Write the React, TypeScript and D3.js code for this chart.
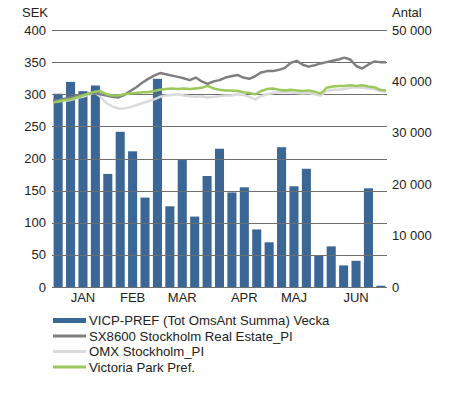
import { useRef, useEffect } from 'react';
import * as d3 from 'd3';

// Weekly volume (Antal), weeks 1-27
const weeks = d3.range(1, 28).map((w) => `v${w}`);
const volume = [
  37600, 39900, 38100, 39200, 22000, 30200, 26400, 17400, 40500, 15700, 24700, 13700, 21600, 26900,
  18400, 19400, 11200, 8700, 27200, 19600, 23000, 6100, 7900, 4200, 5100, 19200, 250,
];

// Month labels placed under these week bars
const monthWeeks = ['v3', 'v7', 'v11', 'v16', 'v20', 'v25'];
const monthLabels = ['JAN', 'FEB', 'MAR', 'APR', 'MAJ', 'JUN'];

// Price series (SEK), sampled over the half year
const sx8600 = [
  290, 291, 293, 295, 297, 299, 301, 302, 300, 298, 296, 295, 299, 305, 311, 318, 324, 329, 333, 331,
  329, 327, 325, 322, 326, 320, 316, 320, 322, 326, 328, 330, 326, 324, 328, 334, 336, 336, 338, 341,
  349, 352, 346, 343, 345, 348, 350, 352, 354, 357, 354, 344, 340, 346, 351, 350, 350,
];
const omx = [
  288, 289, 290, 291, 294, 296, 299, 303, 296, 286, 281, 278, 278, 280, 283, 286, 289, 292, 296, 298,
  299, 300, 298, 297, 296, 297, 295, 296, 297, 298, 298, 300, 299, 296, 292, 297, 300, 302, 303, 303,
  303, 302, 301, 302, 300, 298, 305, 307, 307, 308, 310, 311, 310, 309, 308, 305, 304,
];
const victoriaPark = [
  287, 289, 291, 292, 295, 298, 301, 304, 305, 300, 298, 298, 300, 301, 302, 303, 303, 305, 307, 308,
  309, 308, 309, 308, 309, 310, 313, 309, 307, 306, 306, 305, 303, 302, 300, 305, 308, 309, 307, 306,
  307, 306, 305, 306, 304, 301, 310, 312, 313, 313, 314, 313, 314, 312, 311, 307, 306,
];

const leftTicks = [0, 50, 100, 150, 200, 250, 300, 350, 400];
const rightTicks = [0, 10000, 20000, 30000, 40000, 50000];

const legendItems = [
  { label: 'VICP-PREF (Tot OmsAnt Summa) Vecka', color: '#3a6795', width: 5 },
  { label: 'SX8600 Stockholm Real Estate_PI', color: '#7f7f7f', width: 3 },
  { label: 'OMX Stockholm_PI', color: '#dadada', width: 3 },
  { label: 'Victoria Park Pref.', color: '#9bc95c', width: 3 },
];

export default function App() {
  const svgRef = useRef<SVGSVGElement>(null);

  useEffect(() => {
    document.body.style.margin = '0';
    if (!svgRef.current) return;

    const width = 472;
    const height = 393;
    const margin = { top: 30, right: 85, bottom: 106, left: 52 };
    const font = '"Liberation Sans", Arial, sans-serif';

    d3.select(svgRef.current).selectAll('*').remove();
    const svg = d3
      .select(svgRef.current)
      .attr('width', width)
      .attr('height', height)
      .style('font-family', font);

    svg.append('rect').attr('width', width).attr('height', height).attr('fill', '#fff');

    const x0 = margin.left;
    const x1 = width - margin.right;
    const y0 = height - margin.bottom;

    const xBand = d3.scaleBand().domain(weeks).range([x0, x1]).paddingInner(0.27).paddingOuter(0.13);
    const yLeft = d3.scaleLinear().domain([0, 400]).range([y0, margin.top]);
    const yRight = d3.scaleLinear().domain([0, 50000]).range([y0, margin.top]);
    const xLine = d3.scaleLinear().domain([0, sx8600.length - 1]).range([x0 + 1, x1 - 1]);

    // Bars
    svg
      .append('g')
      .selectAll('rect')
      .data(volume)
      .join('rect')
      .attr('x', (_, i) => xBand(weeks[i]) || 0)
      .attr('y', (d) => yRight(d))
      .attr('width', xBand.bandwidth())
      .attr('height', (d) => y0 - yRight(d))
      .attr('fill', '#3a6795');

    // Grid lines
    svg
      .append('g')
      .selectAll('line')
      .data(leftTicks)
      .join('line')
      .attr('x1', x0)
      .attr('x2', x1)
      .attr('y1', (d) => Math.round(yLeft(d)) + 0.5)
      .attr('y2', (d) => Math.round(yLeft(d)) + 0.5)
      .attr('stroke', '#6f6f6f')
      .attr('stroke-width', 1);

    // Lines
    const line = d3
      .line<number>()
      .x((_, i) => xLine(i))
      .y((d) => yLeft(d))
      .curve(d3.curveLinear);

    [
      { data: omx, color: '#dadada' },
      { data: sx8600, color: '#7f7f7f' },
      { data: victoriaPark, color: '#9bc95c' },
    ].forEach((s) => {
      svg
        .append('path')
        .datum(s.data)
        .attr('d', line)
        .attr('fill', 'none')
        .attr('stroke', s.color)
        .attr('stroke-width', 2.5)
        .attr('stroke-linejoin', 'round');
    });

    // Left axis labels
    svg
      .append('g')
      .selectAll('text')
      .data(leftTicks)
      .join('text')
      .attr('x', x0 - 6)
      .attr('y', (d) => yLeft(d))
      .attr('dy', '0.35em')
      .attr('text-anchor', 'end')
      .attr('fill', '#222')
      .attr('font-size', '13px')
      .text((d) => d);

    svg
      .append('text')
      .attr('x', 22)
      .attr('y', 17)
      .attr('fill', '#222')
      .attr('font-size', '13px')
      .text('SEK');

    // Right axis labels
    svg
      .append('g')
      .selectAll('text')
      .data(rightTicks)
      .join('text')
      .attr('x', x1 + 5)
      .attr('y', (d) => yRight(d))
      .attr('dy', '0.35em')
      .attr('fill', '#222')
      .attr('font-size', '13px')
      .text((d) => d3.format(',')(d).replace(/,/g, ' '));

    svg
      .append('text')
      .attr('x', x1 + 5)
      .attr('y', 17)
      .attr('fill', '#222')
      .attr('font-size', '13px')
      .text('Antal');

    // Month labels
    svg
      .append('g')
      .selectAll('text')
      .data(monthWeeks)
      .join('text')
      .attr('x', (d) => (xBand(d) || 0) + xBand.bandwidth() / 2)
      .attr('y', y0 + 10)
      .attr('dy', '0.35em')
      .attr('text-anchor', 'middle')
      .attr('fill', '#222')
      .attr('font-size', '13px')
      .text((_, i) => monthLabels[i]);

    // Legend
    const legend = svg
      .append('g')
      .selectAll('g')
      .data(legendItems)
      .join('g')
      .attr('transform', (_, i) => `translate(53, ${320.5 + i * 15.5})`);

    legend
      .append('line')
      .attr('x1', 0)
      .attr('x2', 33)
      .attr('stroke', (d) => d.color)
      .attr('stroke-width', (d) => d.width);

    legend
      .append('text')
      .attr('x', 36)
      .attr('dy', '0.35em')
      .attr('fill', '#222')
      .attr('font-size', '13.2px')
      .text((d) => d.label);
  }, []);

  return <svg ref={svgRef} style={{ display: 'block' }} />;
}
